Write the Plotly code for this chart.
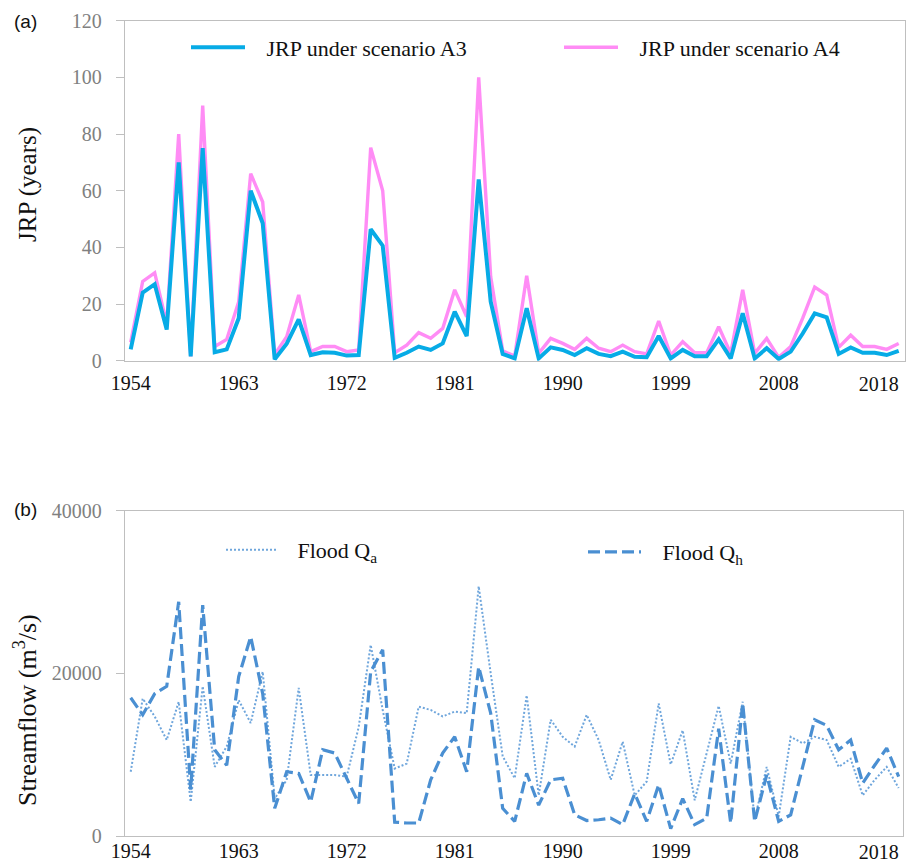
import plotly.graph_objects as go

# ---------------- data ----------------
years = list(range(1954, 2019))

jrp_a3 = [4, 24, 27, 11, 70, 1.5, 75, 3, 4, 15,
          60, 48.5, 0.5, 6, 14.6, 2, 3, 2.8, 1.8, 2,
          46.4, 40.6, 1, 2.8, 5, 3.8, 6.1, 17.3, 8.7, 64,
          20.8, 2.4, 0.8, 18.5, 0.8, 4.7, 3.8, 2, 4.4, 2.4,
          1.6, 3.2, 1.4, 1.2, 8.7, 0.8, 3.8, 1.6, 1.6, 7.5,
          0.8, 16.7, 0.8, 4.4, 0.6, 3.2, 9.6, 16.7, 15.3, 2.4,
          4.7, 2.8, 2.8, 2, 3.5]

jrp_a4 = [6.5, 28, 31, 13, 80, 1.5, 90, 5, 7.5, 20.8,
          66, 56, 2.2, 8.5, 23.2, 3.2, 5, 5, 3.2, 3.8,
          75.2, 60, 2.8, 5.5, 9.9, 7.9, 11.4, 25, 15.5, 100,
          29.6, 3.5, 1.6, 30, 2.6, 7.9, 6.1, 4, 7.9, 4.4,
          3.2, 5.5, 3.2, 2.4, 14, 2, 6.7, 2.8, 2.8, 12,
          2.6, 25, 2.6, 7.9, 1.2, 5, 15, 26, 23.2, 4.7,
          9, 5, 5, 4, 6.1]

flood_qa = [7900, 16900, 14700, 11800, 16500, 4200, 18400, 8500, 11000, 16700,
            13900, 20200, 4600, 6900, 18200, 7500, 7500, 7500, 7300, 13400,
            23500, 15500, 8300, 8900, 15900, 15500, 14700, 15300, 15100, 30700,
            20000, 9800, 7100, 17300, 5000, 14300, 12200, 11000, 14900, 11800,
            6900, 11600, 5000, 6700, 16300, 8800, 13000, 4400, 10200, 16000,
            8900, 16500, 2000, 8500, 2400, 12200, 11400, 12200, 11800, 8500,
            9500, 5000, 6900, 8500, 5900]

flood_qh = [17000, 14900, 17500, 18400, 28800, 5700, 28400, 10600, 8700, 19600,
            24500, 17500, 3400, 7900, 7700, 4200, 10600, 10200, 7100, 4000,
            20200, 22900, 1700, 1600, 1600, 6900, 10200, 12200, 7900, 20800,
            15100, 3400, 1800, 7700, 3800, 6900, 7100, 2600, 1900, 2000,
            2200, 1400, 5200, 1800, 6300, 900, 4600, 1400, 2200, 13200,
            1600, 16300, 1800, 7500, 1800, 2600, 8500, 14300, 13600, 10600,
            11800, 6500, 8700, 10800, 7300]

tick_years = [1954, 1963, 1972, 1981, 1990, 1999, 2008, 2018]
tick_labels = [str(y) for y in tick_years]
jrp_ticks = [0, 20, 40, 60, 80, 100, 120]
flow_ticks = [0, 20000, 40000]

# ---------------- styling ----------------
W, H = 906, 862
SERIF = "Liberation Serif"
SANS = "Liberation Sans"
C_A3 = "#07ABE6"
C_A4 = "#FF8CF5"
C_QH = "#4A8FD2"
C_QA = "#6FA6DC"
GRID = "#BFBFBF"
NB = "\u00a0"

def px_x(p):
    return p / W

def px_y(p):
    return 1 - p / H

fig = go.Figure()

fig.add_trace(go.Scatter(x=years, y=jrp_a4, mode="lines", name=NB * 3 + "JRP under scenario A4",
                         line=dict(color=C_A4, width=3.4), xaxis="x", yaxis="y",
                         legend="legend2"))
fig.add_trace(go.Scatter(x=years, y=jrp_a3, mode="lines", name=NB * 3 + "JRP under scenario A3",
                         line=dict(color=C_A3, width=4), xaxis="x", yaxis="y",
                         legend="legend"))
fig.add_trace(go.Scatter(x=years, y=flood_qa, mode="lines", name=NB * 3 + "Flood Q<sub>a</sub>",
                         line=dict(color=C_QA, width=2, dash="2px,2px"), xaxis="x2", yaxis="y2",
                         legend="legend3"))
fig.add_trace(go.Scatter(x=years, y=flood_qh, mode="lines", name=NB * 3 + "Flood Q<sub>h</sub>",
                         line=dict(color=C_QH, width=3.2, dash="12px,5px"), xaxis="x2", yaxis="y2",
                         legend="legend4"))
# empty traces that register the overlay axes carrying the final year label
fig.add_trace(go.Scatter(x=[], y=[], mode="lines", xaxis="x3", yaxis="y",
                         showlegend=False, hoverinfo="skip"))
fig.add_trace(go.Scatter(x=[], y=[], mode="lines", xaxis="x4", yaxis="y2",
                         showlegend=False, hoverinfo="skip"))

def leg(x, y, iw):
    return dict(x=px_x(x), y=px_y(y), font=dict(family=SERIF, size=22, color="#111111"),
                bgcolor="rgba(0,0,0,0)", xanchor="left", yanchor="middle",
                itemwidth=iw, borderwidth=0)

tickfont_x = dict(family=SERIF, size=20, color="#111111")
xaxis_common = dict(showline=True, mirror=True, linecolor=GRID, linewidth=1.3,
                    showgrid=False, zeroline=False, ticks="", ticklen=0,
                    automargin=False, ticklabeloverflow="allow",
                    tickmode="array", tickvals=tick_years[:-1], ticktext=tick_labels[:-1],
                    tickfont=tickfont_x)
# overlay axis carrying the final year label, right-aligned to its tick so it stays inside
xlast_common = dict(showline=False, showgrid=False, zeroline=False, ticks="", ticklen=0,
                    automargin=False, ticklabeloverflow="allow",
                    ticklabelposition="outside left",
                    tickmode="array", tickvals=tick_years[-1:], ticktext=tick_labels[-1:],
                    tickfont=tickfont_x)
yaxis_common = dict(showline=True, mirror=True, linecolor=GRID, linewidth=1.3,
                    showgrid=False, zeroline=False, ticks="outside", ticklen=8,
                    automargin=False, tickformat="d",
                    tickcolor=GRID, tickwidth=1.3, ticklabelstandoff=10,
                    tickfont=dict(family=SERIF, size=20, color="#808080"))

top_dom = [px_x(125), px_x(905)]
bot_dom = [px_x(125), px_x(903)]
top_rng = [1953.525, 2018.525]
bot_rng = [1953.525, 2018.36]

fig.update_layout(
    width=W, height=H, autosize=False,
    margin=dict(l=0, r=0, t=0, b=0, pad=0, autoexpand=False),
    paper_bgcolor="white", plot_bgcolor="white",
    showlegend=True,
    xaxis=dict(domain=top_dom, range=top_rng, anchor="y", ticklabelstandoff=4, **xaxis_common),
    xaxis3=dict(domain=top_dom, range=top_rng, anchor="y", overlaying="x", side="bottom",
                ticklabelstandoff=9, **xlast_common),
    yaxis=dict(domain=[px_y(360.7), px_y(20.7)], range=[0, 120], anchor="x",
               tickvals=jrp_ticks, **yaxis_common),
    xaxis2=dict(domain=bot_dom, range=bot_rng, anchor="y2", ticklabelstandoff=-3, **xaxis_common),
    xaxis4=dict(domain=bot_dom, range=bot_rng, anchor="y2", overlaying="x2", side="bottom",
                ticklabelstandoff=2, **xlast_common),
    yaxis2=dict(domain=[px_y(836), px_y(510.7)], range=[0, 40000], anchor="x2",
                tickvals=flow_ticks, **yaxis_common),
    legend=leg(186, 47.5, 54),
    legend2=leg(559, 47.5, 54),
    legend3=leg(221, 550, 50),
    legend4=leg(583, 552, 53),
    annotations=[
        dict(text="(a)", x=px_x(12), y=px_y(22), xref="paper", yref="paper",
             xanchor="left", yanchor="middle", showarrow=False,
             font=dict(family=SANS, size=19, color="#111111")),
        dict(text="(b)", x=px_x(12), y=px_y(509), xref="paper", yref="paper",
             xanchor="left", yanchor="middle", showarrow=False,
             font=dict(family=SANS, size=19, color="#111111")),
        dict(text="JRP (years)", x=px_x(28), y=px_y(185), xref="paper", yref="paper",
             xanchor="center", yanchor="middle", textangle=-90, showarrow=False,
             font=dict(family=SERIF, size=25, color="#111111")),
        dict(text="Streamflow (m<sup>3</sup>/s)", x=px_x(25), y=px_y(710),
             xref="paper", yref="paper", xanchor="center", yanchor="middle",
             textangle=-90, showarrow=False,
             font=dict(family=SERIF, size=26, color="#111111")),
    ],
)

fig.write_html("out.html")
